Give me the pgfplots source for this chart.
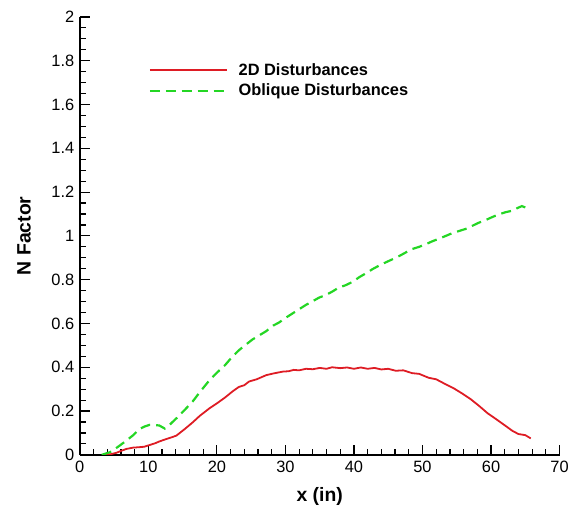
\documentclass[border=0pt]{standalone}
\usepackage{fontspec}
\setmainfont{Liberation Sans}
\usepackage{pgfplots}
\pgfplotsset{compat=1.18}
\definecolor{myred}{RGB}{222,28,36}
\definecolor{mygreen}{RGB}{36,214,36}
\begin{document}
\begin{tikzpicture}
\begin{axis}[
  at={(0,0)}, anchor=south west,
  scale only axis, width=481bp, height=439bp,
  xmin=0, xmax=70, ymin=0, ymax=2,
  axis x line*=bottom, axis y line*=left,
  axis line style={line width=1.6bp, black},
  xtick={0,10,...,70}, ytick={0,0.2,...,2.01},
  minor x tick num=4, minor y tick num=3,
  tick align=inside,
  major tick length=10bp, minor tick length=6bp,
  every tick/.style={black, line width=1.2bp},
  tick label style={font=\fontsize{16.5}{19}\selectfont},
  /pgf/number format/assume math mode=true,
  yticklabel style={xshift=-2bp},
  xticklabel style={yshift=-3bp},
  xlabel={\textbf{x (in)}}, ylabel={\textbf{N Factor}},
  label style={font=\fontsize{19.5}{22}\selectfont},
  xlabel style={yshift=-8bp},
  ylabel style={yshift=14bp},
  legend style={draw=none, fill=none, at={(0.137,0.903)}, anchor=north west,
    font=\fontsize{16.5}{19}\selectfont\bfseries, row sep=3bp,
    legend cell align=left},
  legend image code/.code={\draw[#1] (0bp,0bp) -- (77bp,0bp); \path (86bp,0bp);},
]
\addplot[myred, line width=1.8bp] coordinates {
(3.4,0) (4.5,0.003) (5.3,0.009) (6.2,0.02) (6.8,0.027) (7.8,0.033) (8.7,0.035) (9.4,0.037) (9.9,0.042) (11,0.053) (11.6,0.061) (12.6,0.072) (13.4,0.08) (14.1,0.088) (15.2,0.115) (16.5,0.149) (17.5,0.178) (18.9,0.212) (20,0.235) (21.2,0.262) (22.3,0.29) (23.2,0.31) (24,0.318) (24.7,0.335) (25.8,0.345) (27.2,0.364) (28.3,0.372) (29.6,0.38) (30.5,0.382) (31.2,0.388) (32,0.386) (33,0.393) (34,0.391) (35,0.397) (36,0.393) (36.8,0.4) (38,0.396) (39,0.399) (40,0.393) (41,0.399) (42,0.393) (43,0.397) (44,0.39) (45,0.393) (46.1,0.384) (47.2,0.386) (48.5,0.373) (49.5,0.37) (50.9,0.352) (52,0.345) (53.4,0.322) (54.5,0.305) (55.8,0.28) (57,0.255) (58.2,0.225) (59.5,0.19) (60.7,0.164) (62,0.135) (63.1,0.11) (64,0.095) (65,0.09) (65.8,0.075)
};
\addlegendentry{2D Disturbances}
\addplot[mygreen, line width=2.2bp, dash pattern=on 10bp off 6bp] coordinates {
(3.2,0) (4.4,0.012) (5.5,0.035) (6.8,0.065) (7.8,0.09) (8.7,0.118) (9.5,0.13) (10.2,0.137) (11,0.136) (11.6,0.134) (12.4,0.12) (13.2,0.14) (14.1,0.167) (15.3,0.205) (16.5,0.245) (17.6,0.29) (18.9,0.34) (20,0.375) (21.2,0.41) (22.3,0.45) (23.3,0.48) (24.3,0.505) (25.2,0.527) (26.2,0.546) (27.2,0.565) (28.2,0.59) (29.1,0.605) (30,0.625) (31,0.645) (32,0.665) (33,0.685) (33.9,0.7) (34.9,0.718) (35.9,0.73) (36.8,0.745) (37.8,0.764) (38.8,0.775) (39.8,0.79) (40.8,0.812) (41.8,0.83) (42.7,0.848) (43.7,0.865) (44.7,0.88) (45.6,0.893) (46.6,0.908) (47.6,0.925) (48.5,0.94) (49.5,0.95) (50.5,0.962) (51.4,0.975) (52.4,0.987) (53.4,1.0) (54.3,1.012) (55.3,1.022) (56.3,1.032) (57.2,1.045) (58.2,1.06) (59.2,1.072) (60.1,1.085) (61.1,1.098) (62.1,1.108) (63.1,1.115) (63.9,1.128) (64.5,1.136) (65,1.13)
};
\addlegendentry{Oblique Disturbances}
\end{axis}
\useasboundingbox (-80bp,-56bp) rectangle (492bp,456bp);
\end{tikzpicture}
\end{document}
